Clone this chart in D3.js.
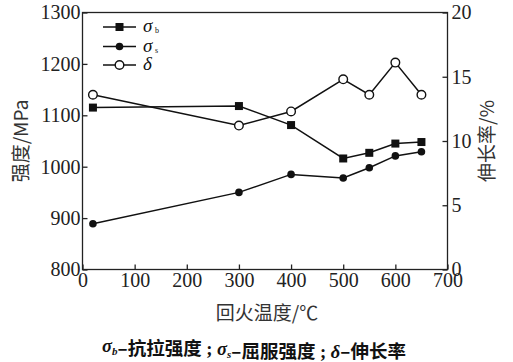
<!DOCTYPE html>
<html>
<head>
<meta charset="utf-8">
<script src="https://cdn.jsdelivr.net/npm/d3@7"></script>
<style>
  body { margin: 0; background: #fff; }
  svg { display: block; }
</style>
</head>
<body>
<svg id="chart" width="513" height="362"></svg>
<script>
// tempering temperature (deg C)
const temps = [20, 300, 400, 500, 550, 600, 650];
// tensile strength sigma_b (MPa)
const sigmaB = [1115, 1118, 1081, 1016, 1027, 1045, 1048];
// yield strength sigma_s (MPa)
const sigmaS = [889, 950, 985, 978, 998, 1021, 1029];
// elongation delta (%)
const delta = [13.6, 11.2, 12.3, 14.8, 13.6, 16.1, 13.6];

const xTicks = [0, 100, 200, 300, 400, 500, 600, 700];
const yTicks = [800, 900, 1000, 1100, 1200, 1300];
const y2Ticks = [0, 5, 10, 15, 20];

const svg = d3.select("#chart");
const serif = "Liberation Serif";
const cjk = "Noto Sans CJK SC";

const plotLeft = 82.5, plotRight = 447.5, plotTop = 12.5, plotBottom = 269.5;

let x = d3.scaleLinear().domain([0, 700]).range([plotLeft, plotRight]);
let y = d3.scaleLinear().domain([800, 1300]).range([plotBottom, plotTop]);
let y2 = d3.scaleLinear().domain([0, 20]).range([plotBottom, plotTop]);

//frame
svg.append("rect")
    .attr("x", plotLeft).attr("y", plotTop)
    .attr("width", plotRight - plotLeft).attr("height", plotBottom - plotTop)
    .attr("fill", "none").attr("stroke", "#222").attr("stroke-width", 1.3);

//axes with inward ticks
function styleAxis(g) {
    g.attr("font-family", null).attr("font-size", null);
    g.select(".domain").remove();
    g.selectAll("line").attr("stroke", "#222").attr("stroke-width", 1.3);
    g.selectAll("text").attr("fill", "#222")
        .attr("font-family", serif).attr("font-size", 20);
}

const fmt = d3.format("d");

svg.append("g")
    .attr("transform", "translate(0," + plotBottom + ")")
    .call(d3.axisBottom(x).tickValues(xTicks).tickFormat(fmt).tickSizeInner(-5).tickSizeOuter(0).tickPadding(3))
    .call(styleAxis);

svg.append("g")
    .attr("transform", "translate(" + plotLeft + ",0)")
    .call(d3.axisLeft(y).tickValues(yTicks).tickFormat(fmt).tickSizeInner(-5).tickSizeOuter(0).tickPadding(2))
    .call(styleAxis);

svg.append("g")
    .attr("transform", "translate(" + plotRight + ",0)")
    .call(d3.axisRight(y2).tickValues(y2Ticks).tickFormat(fmt).tickSizeInner(-5).tickSizeOuter(0).tickPadding(4))
    .call(styleAxis);

//axis titles
svg.append("text")
    .attr("transform", "translate(28,141) rotate(-90)")
    .attr("text-anchor", "middle")
    .attr("font-family", cjk).attr("font-size", 19).attr("fill", "#333")
    .text("强度/MPa");

svg.append("text")
    .attr("transform", "translate(494,141) rotate(-90)")
    .attr("text-anchor", "middle")
    .attr("font-family", cjk).attr("font-size", 19).attr("fill", "#333")
    .text("伸长率/%");

svg.append("text")
    .attr("x", 267).attr("y", 320)
    .attr("text-anchor", "middle")
    .attr("font-family", cjk).attr("font-size", 19).attr("fill", "#333")
    .text("回火温度/℃");

//caption
let cap = svg.append("text")
    .attr("x", 254).attr("y", 352)
    .attr("text-anchor", "middle")
    .attr("font-family", cjk).attr("font-size", 18.5).attr("font-weight", "bold").attr("fill", "#111");
function greek(sym, sub) {
    cap.append("tspan").attr("font-family", serif).attr("font-style", "italic").text(sym);
    if (sub) {
        cap.append("tspan").attr("font-family", serif).attr("font-style", "italic")
            .attr("font-size", 11).attr("dy", 3).text(sub);
        cap.append("tspan").attr("dy", -3).text("");
    }
}
greek("σ", "b");
cap.append("tspan").text("–抗拉强度");
cap.append("tspan").attr("font-family", serif).text(" ; ");
greek("σ", "s");
cap.append("tspan").text("–屈服强度");
cap.append("tspan").attr("font-family", serif).text(" ; ");
greek("δ", "");
cap.append("tspan").text("–伸长率");

//series
const series = [
    {values: sigmaB, scale: y, marker: "square", label: "σ", sub: "b"},
    {values: sigmaS, scale: y, marker: "dot", label: "σ", sub: "s"},
    {values: delta, scale: y2, marker: "open", label: "δ", sub: ""}
];

function drawMarker(g, type, cx, cy) {
    if (type == "square") {
        g.append("rect").attr("x", cx - 4).attr("y", cy - 4).attr("width", 8).attr("height", 8)
            .attr("fill", "#111");
    } else if (type == "dot") {
        g.append("circle").attr("cx", cx).attr("cy", cy).attr("r", 3.8).attr("fill", "#111");
    } else {
        g.append("circle").attr("cx", cx).attr("cy", cy).attr("r", 4.3)
            .attr("fill", "#fff").attr("stroke", "#111").attr("stroke-width", 1.4);
    }
}

series.forEach((s) => {
    let line = d3.line()
        .x((d, i) => x(temps[i]))
        .y((d) => s.scale(d));

    svg.append("path")
        .datum(s.values)
        .attr("d", line)
        .attr("fill", "none").attr("stroke", "#111").attr("stroke-width", 1.5);

    let g = svg.append("g");
    s.values.forEach((v, i) => drawMarker(g, s.marker, x(temps[i]), s.scale(v)));
});

//legend
const legendRows = [27, 46.5, 65];
series.forEach((s, i) => {
    let ly = legendRows[i];
    let g = svg.append("g");
    g.append("line").attr("x1", 103).attr("x2", 136).attr("y1", ly).attr("y2", ly)
        .attr("stroke", "#111").attr("stroke-width", 1.5);
    drawMarker(g, s.marker, 119.5, ly);
    g.append("text").attr("x", 143).attr("y", ly + 5)
        .attr("font-family", serif).attr("font-style", "italic").attr("font-size", 19)
        .attr("fill", "#111").text(s.label);
    if (s.sub) {
        g.append("text").attr("x", 155).attr("y", ly + 6)
            .attr("font-family", serif).attr("font-size", 8)
            .attr("fill", "#111").text(s.sub);
    }
});
</script>
</body>
</html>
